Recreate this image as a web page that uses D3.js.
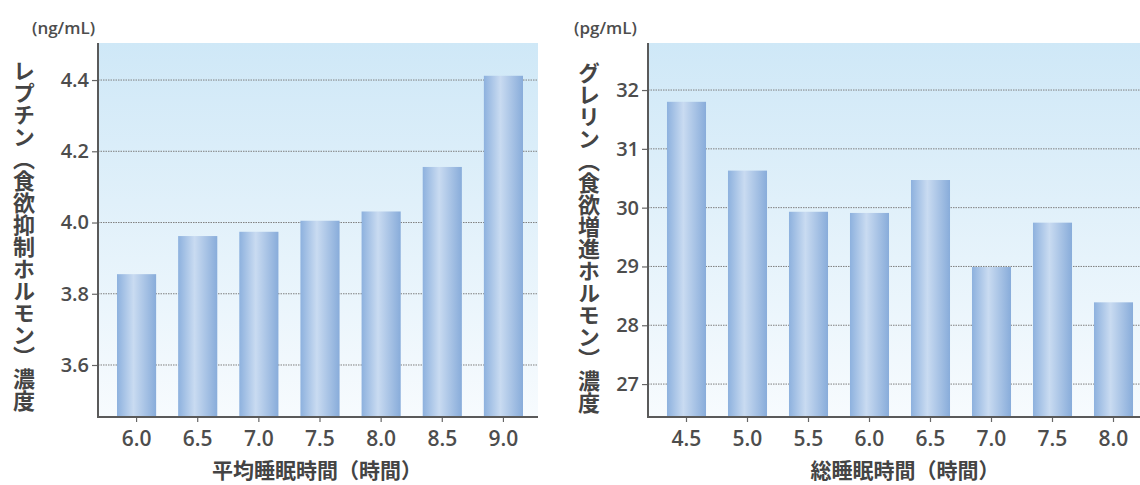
<!DOCTYPE html>
<html>
<head>
<meta charset="utf-8">
<script src="https://cdn.jsdelivr.net/npm/d3@7"></script>
<style>
  body { margin: 0; background: #fff; }
  svg { display: block; }
  .tick-label { font-family: "Open Sans", "Noto Sans", sans-serif; font-weight: 600; fill: #4d4d4d; }
  .title { font-family: "Noto Sans CJK JP", sans-serif; font-weight: 700; fill: #444; }
</style>
</head>
<body>
<div id="chart"></div>
<script>
// DATA
const leptinHours = ["6.0", "6.5", "7.0", "7.5", "8.0", "8.5", "9.0"];
const leptinValues = [3.855, 3.962, 3.974, 4.005, 4.031, 4.156, 4.412];
const leptinTicks = [3.6, 3.8, 4.0, 4.2, 4.4];

const ghrelinHours = ["4.5", "5.0", "5.5", "6.0", "6.5", "7.0", "7.5", "8.0"];
const ghrelinValues = [31.80, 30.63, 29.93, 29.91, 30.47, 28.99, 29.745, 28.39];
const ghrelinTicks = [27, 28, 29, 30, 31, 32];

const svg = d3.select("#chart").append("svg")
    .attr("width", 1140)
    .attr("height", 485);

const defs = svg.append("defs");

// background: light blue fading to white
const bg = defs.append("linearGradient")
    .attr("id", "bgGrad")
    .attr("x1", 0).attr("y1", 0).attr("x2", 0).attr("y2", 1);
bg.append("stop").attr("offset", "0%").attr("stop-color", "#cfe8f7");
bg.append("stop").attr("offset", "100%").attr("stop-color", "#f7fbfe");

// bars: cylinder look
const barGrad = defs.append("linearGradient")
    .attr("id", "barGrad")
    .attr("x1", 0).attr("y1", 0).attr("x2", 1).attr("y2", 0);
barGrad.append("stop").attr("offset", "0%").attr("stop-color", "#8db1de");
barGrad.append("stop").attr("offset", "42%").attr("stop-color", "#c9dbf1");
barGrad.append("stop").attr("offset", "100%").attr("stop-color", "#88acda");

function drawChart(opts) {
    const top = 43, bottom = 417;
    const g = svg.append("g");

    const x = d3.scaleBand()
        .domain(opts.hours)
        .range([opts.axisX + 8, opts.bandEnd])
        .paddingInner(0.36)
        .paddingOuter(0.18);

    const y = d3.scaleLinear()
        .domain(opts.yDomain)
        .range([bottom, top]);

    // plot background
    g.append("rect")
        .attr("x", opts.axisX)
        .attr("y", top)
        .attr("width", opts.plotRight - opts.axisX)
        .attr("height", bottom - top)
        .attr("fill", "url(#bgGrad)");

    // dotted grid lines
    g.selectAll(".grid")
        .data(opts.ticks)
        .enter()
        .append("line")
        .attr("x1", opts.axisX)
        .attr("x2", opts.plotRight)
        .attr("y1", d => y(d))
        .attr("y2", d => y(d))
        .attr("stroke", "#7f7f7f")
        .attr("stroke-width", 1)
        .attr("stroke-dasharray", "1.5,1");

    // bars
    g.selectAll(".bar")
        .data(opts.values)
        .enter()
        .append("rect")
        .attr("x", (d, i) => x(opts.hours[i]))
        .attr("y", d => y(d))
        .attr("width", x.bandwidth())
        .attr("height", d => bottom - y(d))
        .attr("fill", "url(#barGrad)");

    // y axis
    const yAxis = g.append("g")
        .attr("transform", `translate(${opts.axisX}, 0)`)
        .call(d3.axisLeft(y).tickValues(opts.ticks).tickSize(6).tickPadding(3)
            .tickFormat(opts.tickFormat));
    yAxis.select(".domain").remove();
    yAxis.selectAll(".tick line").attr("stroke", "#666").attr("stroke-width", 1.2);
    yAxis.selectAll("text")
        .attr("class", "tick-label")
        .style("font-size", "20px");

    // x axis
    const xAxis = g.append("g")
        .attr("transform", `translate(0, ${bottom})`)
        .call(d3.axisBottom(x).tickSize(5).tickPadding(9));
    xAxis.select(".domain").remove();
    xAxis.selectAll(".tick line").attr("stroke", "#666").attr("stroke-width", 1.2);
    xAxis.selectAll("text")
        .attr("class", "tick-label")
        .style("font-size", "21px");

    // axis lines
    g.append("line")
        .attr("x1", opts.axisX).attr("x2", opts.axisX)
        .attr("y1", top).attr("y2", bottom + 1)
        .attr("stroke", "#5a5a5a").attr("stroke-width", 2);
    g.append("line")
        .attr("x1", opts.axisX - 1).attr("x2", opts.plotRight)
        .attr("y1", bottom).attr("y2", bottom)
        .attr("stroke", "#5a5a5a").attr("stroke-width", 2);

    // unit label
    g.append("text")
        .attr("class", "tick-label")
        .attr("x", opts.unitX)
        .attr("y", 34)
        .style("font-size", "17px")
        .text(opts.unit);

    // vertical y title
    g.append("text")
        .attr("class", "title")
        .attr("x", opts.titleX)
        .attr("y", opts.titleY)
        .style("writing-mode", "vertical-rl")
        .style("font-size", "22px")
        .text(opts.yTitle);

    // x title
    g.append("text")
        .attr("class", "title")
        .attr("text-anchor", "middle")
        .attr("x", opts.xTitleX)
        .attr("y", 478)
        .style("font-size", "21px")
        .text(opts.xTitle);
}

drawChart({
    hours: leptinHours,
    values: leptinValues,
    ticks: leptinTicks,
    yDomain: [3.454, 4.504],
    tickFormat: d3.format(".1f"),
    axisX: 98,
    plotRight: 538,
    bandEnd: 534,
    unit: "(ng/mL)",
    unitX: 32,
    yTitle: "レプチン（食欲抑制ホルモン）濃度",
    titleX: 24,
    titleY: 60,
    xTitle: "平均睡眠時間（時間）",
    xTitleX: 317
});

drawChart({
    hours: ghrelinHours,
    values: ghrelinValues,
    ticks: ghrelinTicks,
    yDomain: [26.44, 32.8],
    tickFormat: d3.format("d"),
    axisX: 648,
    plotRight: 1140,
    bandEnd: 1144,
    unit: "(pg/mL)",
    unitX: 574,
    yTitle: "グレリン（食欲増進ホルモン）濃度",
    titleX: 589,
    titleY: 62,
    xTitle: "総睡眠時間（時間）",
    xTitleX: 905
});
</script>
</body>
</html>
